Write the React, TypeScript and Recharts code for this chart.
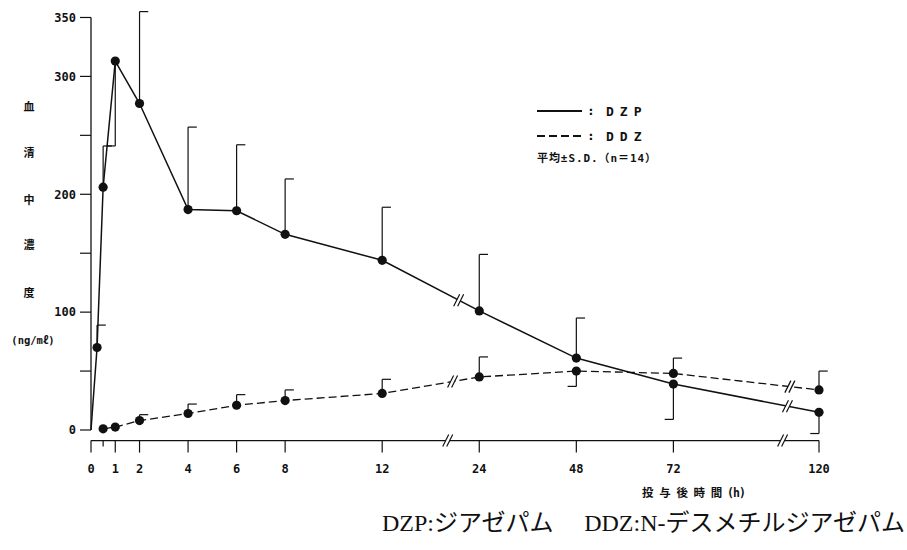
import { LineChart, Line, XAxis, YAxis, ErrorBar, ReferenceLine, ReferenceDot } from 'recharts';

// sampling times (h)
const hours = [0, 0.25, 0.5, 1, 2, 4, 6, 8, 12, 24, 48, 72, 120];

// DZP: mean and S.D. (ng/ml); dir +1 = bar drawn upward, -1 = downward
const dzpMean = [0, 70, 206, 313, 277, 187, 186, 166, 144, 101, 61, 39, 15];
const dzpSd = [null, 19, 35, 72, 78, 70, 56, 47, 45, 48, 34, 30, 18];
const dzpDir = [0, 1, 1, -1, 1, 1, 1, 1, 1, 1, 1, -1, -1];

// DDZ
const ddzMean = [null, null, 1, 2.5, 8, 14, 21, 25, 31, 45, 50, 48, 34];
const ddzSd = [null, null, null, null, 5, 8, 9, 9, 12, 17, 13, 13, 16];
const ddzDir = [0, 0, 0, 0, 1, 1, 1, 1, 1, 1, -1, 1, 1];

const tickHours = [0, 0.5, 1, 2, 4, 6, 8, 12, 24, 48, 72, 120];
const yTicks = [0, 50, 100, 150, 200, 250, 300, 350];
const yLabelled = [0, 100, 200, 300, 350];

const yTitle = ['血', '清', '中', '濃', '度'];
const xTitle = ['投', '与', '後', '時', '間'];

// broken time axis: hours -> axis units
const HOUR_KNOTS = [0, 12, 24, 48, 72, 120];
const AXIS_KNOTS = [0, 12, 16, 20, 24, 30];

function toAxis(h: number) {
  for (let i = 1; i < HOUR_KNOTS.length; i++) {
    if (h <= HOUR_KNOTS[i]) {
      const f = (h - HOUR_KNOTS[i - 1]) / (HOUR_KNOTS[i] - HOUR_KNOTS[i - 1]);
      return AXIS_KNOTS[i - 1] + f * (AXIS_KNOTS[i] - AXIS_KNOTS[i - 1]);
    }
  }
  return AXIS_KNOTS[AXIS_KNOTS.length - 1];
}

const tickPos = tickHours.map(toAxis);

const rows = hours.map((h, i) => ({
  h,
  pos: toAxis(h),
  dzp: dzpMean[i],
  ddz: ddzMean[i],
  dzpErr: dzpSd[i] == null ? null : dzpDir[i] > 0 ? [0, dzpSd[i]] : [dzpSd[i], 0],
  ddzErr: ddzSd[i] == null ? null : ddzDir[i] > 0 ? [0, ddzSd[i]] : [ddzSd[i], 0],
}));

const CAP = 0.36; // cap length in axis units
const INK = '#111';

function caps(mean: (number | null)[], sd: (number | null)[], dir: number[]) {
  const out: { x1: number; x2: number; y: number }[] = [];
  hours.forEach((h, i) => {
    const m = mean[i];
    const s = sd[i];
    if (m == null || s == null) return;
    const x = toAxis(h);
    out.push({ x1: x, x2: x + dir[i] * CAP, y: m + dir[i] * s });
  });
  return out;
}

// y of a series at an axis position (to sit the break marks on the line)
function lineAt(mean: (number | null)[], u: number) {
  for (let i = 1; i < hours.length; i++) {
    const a = toAxis(hours[i - 1]);
    const b = toAxis(hours[i]);
    const ma = mean[i - 1];
    const mb = mean[i];
    if (u >= a && u <= b && ma != null && mb != null) return ma + ((u - a) / (b - a)) * (mb - ma);
  }
  return 0;
}

const breaks = [
  { x: 14.7, y: -9 },
  { x: 28.5, y: -9 },
  { x: 15.15, y: lineAt(dzpMean, 15.15) },
  { x: 28.7, y: lineAt(dzpMean, 28.7) },
  { x: 14.9, y: lineAt(ddzMean, 14.9) },
  { x: 28.8, y: lineAt(ddzMean, 28.8) },
];

function BreakMark(props: any) {
  const { cx, cy } = props;
  return (
    <g>
      <polygon points={`${cx - 5},${cy + 6} ${cx + 1},${cy - 6} ${cx + 5},${cy - 6} ${cx - 1},${cy + 6}`} fill="#fff" />
      <line x1={cx - 5} y1={cy + 6} x2={cx + 1} y2={cy - 6} stroke={INK} strokeWidth={1.2} />
      <line x1={cx - 1} y1={cy + 6} x2={cx + 5} y2={cy - 6} stroke={INK} strokeWidth={1.2} />
    </g>
  );
}

function XTick(props: any) {
  const { x, y, payload } = props;
  const idx = tickPos.indexOf(payload.value);
  const h = tickHours[idx];
  const half = h === 0.5;
  return (
    <g>
      <line x1={x} y1={y} x2={x} y2={y + (half ? 6 : 12)} stroke={INK} strokeWidth={1.2} />
      {!half && (
        <text x={x} y={y + 32} textAnchor="middle" fill={INK} fontSize={12} fontWeight={700} fontFamily="DejaVu Sans Mono">
          {h}
        </text>
      )}
    </g>
  );
}

const renderDot = (props: any) => {
  const { cx, cy, payload, index } = props;
  if (cx == null || cy == null || payload.h === 0) return <g key={`d${index}`} />;
  return <circle key={`d${index}`} cx={cx} cy={cy} r={4.6} fill={INK} stroke="none" />;
};

const dzpCaps = caps(dzpMean, dzpSd, dzpDir);
const ddzCaps = caps(ddzMean, ddzSd, ddzDir);

const txt = { fill: INK, fontFamily: "'DejaVu Sans Mono', 'Noto Sans CJK JP'", fontWeight: 700 } as const;
const serif = "'Liberation Serif', 'Noto Sans CJK JP'";

export default function App() {
  return (
    <div style={{ position: 'absolute', left: 0, top: 0, width: 907, height: 550, background: '#fff' }}>
      <LineChart width={907} height={550} data={rows} margin={{ top: 5.7, right: 88, bottom: 79.4, left: 31 }}>
        <XAxis
          type="number"
          dataKey="pos"
          domain={[0, 30]}
          ticks={tickPos}
          interval={0}
          tick={<XTick />}
          tickLine={false}
          tickSize={0}
          tickMargin={0}
          height={30}
          axisLine={{ stroke: INK, strokeWidth: 1.4 }}
        />
        <YAxis
          type="number"
          domain={[-9, 360]}
          ticks={yTicks}
          interval={0}
          tickFormatter={(v: number) => (yLabelled.includes(v) ? String(v) : '')}
          width={60}
          axisLine={false}
          tickLine={{ stroke: INK, strokeWidth: 1.2 }}
          tickSize={11}
          tickMargin={4}
          tick={{ fill: INK, fontSize: 12, fontWeight: 700, fontFamily: 'DejaVu Sans Mono' }}
        />
        <ReferenceLine segment={[{ x: 0, y: 0 }, { x: 0, y: 350 }]} stroke={INK} strokeWidth={1.3} ifOverflow="visible" />
        <Line
          dataKey="dzp"
          stroke={INK}
          strokeWidth={1.5}
          dot={renderDot}
          activeDot={false}
          isAnimationActive={false}
        >
          <ErrorBar dataKey="dzpErr" width={0} stroke={INK} strokeWidth={1.2} direction="y" />
        </Line>
        <Line
          dataKey="ddz"
          stroke={INK}
          strokeWidth={1.3}
          strokeDasharray="8 4"
          dot={renderDot}
          activeDot={false}
          isAnimationActive={false}
        >
          <ErrorBar dataKey="ddzErr" width={0} stroke={INK} strokeWidth={1.2} direction="y" />
        </Line>
        {[...dzpCaps, ...ddzCaps].map((c, i) => (
          <ReferenceLine
            key={`c${i}`}
            segment={[{ x: c.x1, y: c.y }, { x: c.x2, y: c.y }]}
            stroke={INK}
            strokeWidth={1.2}
            ifOverflow="visible"
          />
        ))}
        {breaks.map((b, i) => (
          <ReferenceDot key={`b${i}`} x={b.x} y={b.y} r={0} shape={<BreakMark />} ifOverflow="visible" />
        ))}
      </LineChart>

      <svg width={907} height={550} style={{ position: 'absolute', left: 0, top: 0, pointerEvents: 'none' }}>
        {/* legend */}
        <line x1={537} y1={111} x2={582} y2={111} stroke={INK} strokeWidth={2} />
        <line x1={537} y1={136} x2={582} y2={136} stroke={INK} strokeWidth={2} strokeDasharray="8 4" />
        <text x={587} y={115} fontSize={13} {...txt}>:</text>
        <text x={587} y={140} fontSize={13} {...txt}>:</text>
        <text x={606} y={116} fontSize={13} letterSpacing={6} {...txt}>DZP</text>
        <text x={606} y={141} fontSize={13} letterSpacing={6} {...txt}>DDZ</text>
        <text x={537} y={162} fontSize={11} textLength={119} lengthAdjust="spacing" {...txt}>平均±S.D.（n＝14）</text>

        {/* y title */}
        {yTitle.map((ch, i) => (
          <text key={ch} x={29} y={[111, 157, 204, 249, 297][i]} fontSize={11} textAnchor="middle" {...txt}>
            {ch}
          </text>
        ))}
        <text x={33} y={344} fontSize={10.5} textAnchor="middle" {...txt}>(ng/mℓ)</text>

        {/* x title */}
        {xTitle.map((ch, i) => (
          <text key={ch} x={642 + i * 17.2} y={497} fontSize={11.5} {...txt}>
            {ch}
          </text>
        ))}
        <text x={727} y={497} fontSize={11.5} textLength={19} lengthAdjust="spacing" {...txt}>(h)</text>

        {/* caption */}
        <text x={382} y={531} fontSize={24} fill={INK} fontFamily={serif}>DZP:ジアゼパム</text>
        <text x={905} y={531} fontSize={24} fill={INK} textAnchor="end" fontFamily={serif}>DDZ:N-デスメチルジアゼパム</text>
      </svg>
    </div>
  );
}
